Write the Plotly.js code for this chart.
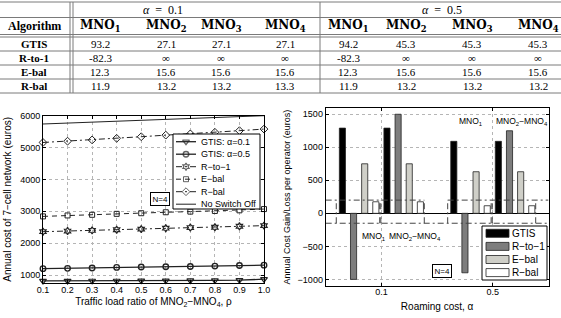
<!DOCTYPE html>
<html><head><meta charset="utf-8">
<script src="https://cdn.plot.ly/plotly-3.0.1.min.js"></script>
<style>html,body{margin:0;padding:0;background:#fff}#chart{width:561px;height:318px}</style>
</head><body><div id="chart"></div>
<script>
// ---------------- TABLE DATA ----------------
const algorithms = ['GTIS', 'R-to-1', 'E-bal', 'R-bal'];
const alphaLabels = ['<i>α</i>\u2002=\u20020.1', '<i>α</i>\u2002=\u20020.5'];
const mnoLabels = ['MNO<sub>1</sub>', 'MNO<sub>2</sub>', 'MNO<sub>3</sub>', 'MNO<sub>4</sub>'];
const tableAlpha01 = [
  ['93.2', '27.1', '27.1', '27.1'],
  ['-82.3', '∞', '∞', '∞'],
  ['12.3', '15.6', '15.6', '15.6'],
  ['11.9', '13.2', '13.2', '13.3']
];
const tableAlpha05 = [
  ['94.2', '45.3', '45.3', '45.3'],
  ['-82.3', '∞', '∞', '∞'],
  ['12.3', '15.6', '15.6', '15.6'],
  ['11.9', '13.2', '13.2', '13.2']
];

// ---------------- LEFT CHART DATA ----------------
const rho = [0.1, 0.2, 0.3, 0.4, 0.5, 0.6, 0.7, 0.8, 0.9, 1.0];
const rhoTickText = ['0.1', '0.2', '0.3', '0.4', '0.5', '0.6', '0.7', '0.8', '0.9', '1.0'];
const costTicks = [1000, 2000, 3000, 4000, 5000, 6000];
const costGtis01 = [815, 815, 820, 820, 825, 825, 830, 835, 840, 870];
const costGtis05 = [1200, 1210, 1220, 1240, 1250, 1260, 1270, 1280, 1300, 1310];
const costRto1 = [2360, 2380, 2400, 2420, 2440, 2470, 2490, 2500, 2530, 2550];
const costEbal = [2840, 2870, 2890, 2920, 2940, 2970, 2990, 3010, 3030, 3070];
const costRbal = [5160, 5200, 5240, 5290, 5340, 5390, 5430, 5480, 5530, 5580];
const costNoSwitchOff = [5740, 5770, 5800, 5830, 5860, 5890, 5920, 5945, 5970, 6000];
const leftLegendLabels = ['GTIS: α=0.1', 'GTIS: α=0.5', 'R−to−1', 'E−bal', 'R−bal', 'No Switch Off'];

// ---------------- RIGHT CHART DATA ----------------
const roamingAlpha = [0.1, 0.5];
const roamingTickText = ['0.1', '0.5'];
const operatorGroups = ['MNO<sub>1</sub>', 'MNO<sub>2</sub>−MNO<sub>4</sub>'];
const gainTicks = [-1000, -500, 0, 500, 1000, 1500];
// order: [α=0.1 MNO1, α=0.1 MNO2–MNO4, α=0.5 MNO1, α=0.5 MNO2–MNO4]
const gainGtis = [1290, 1290, 1090, 1090];
const gainRto1 = [-1000, 1500, -900, 1250];
const gainEbal = [750, 750, 630, 630];
const gainRbal = [175, 175, 115, 115];
const gainRefUpper = 200;
const gainRefLower = -150;
const rightLegendLabels = ['GTIS', 'R−to−1', 'E−bal', 'R−bal'];
const boxLabel = 'N=4';

// ---------------- STYLE / LAYOUT CONSTANTS ----------------
const SANS = 'Liberation Sans, Arial, Helvetica, sans-serif';
const SERIF = 'Liberation Serif, Times New Roman, serif';
const BSERIF = 'DejaVu Serif, serif';
const INK = '#222';

const data = [];
const annotations = [];
function pxAnn(x, y, text, size, family, extra) {
  return Object.assign({xref: 'x3', yref: 'y3', x: x, y: y, text: text, showarrow: false,
    xanchor: 'center', yanchor: 'middle', font: {family: family, size: size, color: '#000'}}, extra || {});
}
function lineTrace(x, y, s, sizes, ax) {
  const t = {type: 'scatter', x: x, y: y, xaxis: ax[0], yaxis: ax[1], cliponaxis: false,
    mode: s.sym ? 'lines+markers' : 'lines',
    line: {color: INK, width: s.lw, dash: s.dash}, hoverinfo: 'skip', showlegend: false};
  if (s.sym) t.marker = {symbol: s.sym, size: sizes, color: INK, line: {color: INK, width: s.mw}};
  return t;
}

// ---- left chart series
const leftSeries = [
  {y: costGtis01, dash: 'solid', sym: 'triangle-down-open', size: 6, mw: 1.2, lw: 1.3},
  {y: costGtis05, dash: 'solid', sym: 'circle-open', size: 5.5, mw: 1.4, lw: 1.3},
  {y: costRto1, dash: '6px,3px,2px,3px', sym: 'hexagram-open', size: 5.5, mw: 1.2, lw: 1},
  {y: costEbal, dash: '5px,4px', sym: 'square-open', size: 5, mw: 1, lw: 1},
  {y: costRbal, dash: '6px,3px,2px,3px', sym: 'diamond-open', size: 6, mw: 1, lw: 1},
  {y: costNoSwitchOff, dash: 'solid', sym: null, size: 0, mw: 0, lw: 1}
];
leftSeries.forEach(s => data.push(lineTrace(rho, s.y, s, s.size, ['x', 'y'])));

// ---- right chart: reference dashed boxes
const barStep = 0.04, barW = 0.022, padL = 0.022, padR = 0.014;
function barX(i, j, a) { return roamingAlpha[i] - 0.14 + (j * 4 + a) * barStep; }
const refX = [], refY = [];
const xr2 = [-0.1, 0.7];
roamingAlpha.forEach((al, i) => {
  operatorGroups.forEach((g, j) => {
    const l = barX(i, j, 0) - padL, r = barX(i, j, 3) + padR;
    refX.push(l, l, null, r, r, null);
    refY.push(gainRefLower, gainRefUpper, null, gainRefLower, gainRefUpper, null);
  });
});
refX.push(xr2[0], barX(0, 1, 3) + padR, null, barX(1, 0, 0) - padL, xr2[1], null, xr2[0], xr2[1]);
refY.push(gainRefUpper, gainRefUpper, null, gainRefUpper, gainRefUpper, null, gainRefLower, gainRefLower);
data.push({type: 'scatter', x: refX, y: refY, xaxis: 'x2', yaxis: 'y2', mode: 'lines',
  line: {color: '#444', width: 1, dash: '6px,3px,2px,3px'}, hoverinfo: 'skip', showlegend: false, connectgaps: false});

// ---- right chart bars
const gainSeries = [gainGtis, gainRto1, gainEbal, gainRbal];
const barColors = ['#000000', '#7d7d7d', '#cfcfc8', '#ffffff'];
gainSeries.forEach((vals, a) => {
  const xs = [], ys = [];
  roamingAlpha.forEach((al, i) => operatorGroups.forEach((g, j) => {
    xs.push(barX(i, j, a)); ys.push(vals[i * 2 + j]);
  }));
  data.push({type: 'bar', x: xs, y: ys, xaxis: 'x2', yaxis: 'y2', width: barW,
    marker: {color: barColors[a], line: {color: '#222', width: 0.8}}, hoverinfo: 'skip', showlegend: false});
});

// ---------------- OVERLAY (pixel space) : table, legends ----------------
const tblColX = [34, 100, 166, 221, 285, 348, 406, 472, 538];
const tblAlphaX = [163, 442];
const tblAlphaY = 10, tblHeadY = 26, tblBody0 = 44, tblStep = 14;
const tblHLines = [2, 17.5, 34.5, 37, 51, 65, 79, 93];
const tblVLines = [70, 73, 320];
const lx = [], ly = [];
tblHLines.forEach(y => { lx.push(0, 561, null); ly.push(y, y, null); });
tblVLines.forEach(x => { lx.push(x, x, null); ly.push(tblHLines[0], tblHLines[tblHLines.length - 1], null); });
data.push({type: 'scatter', x: lx, y: ly, xaxis: 'x3', yaxis: 'y3', mode: 'lines',
  line: {color: '#7a7a7a', width: 1}, hoverinfo: 'skip', showlegend: false});

alphaLabels.forEach((t, i) => annotations.push(pxAnn(tblAlphaX[i], tblAlphaY, t, 12, SERIF)));
annotations.push(pxAnn(tblColX[0], tblHeadY, '<b>Algorithm</b>', 12, SERIF));
[0, 1].forEach(g => mnoLabels.forEach((m, k) =>
  annotations.push(pxAnn(tblColX[1 + g * 4 + k], tblHeadY, '<b>' + m + '</b>', 12, BSERIF))));
algorithms.forEach((alg, r) => {
  const y = tblBody0 + r * tblStep;
  annotations.push(pxAnn(tblColX[0], y, '<b>' + alg + '</b>', 11, SERIF));
  tableAlpha01[r].forEach((v, k) => annotations.push(pxAnn(tblColX[1 + k], y, v, 11, SERIF)));
  tableAlpha05[r].forEach((v, k) => annotations.push(pxAnn(tblColX[5 + k], y, v, 11, SERIF)));
});

// left legend
const lgL = {x0: 173, x1: 260, y0: 134, y1: 209, first: 141.7, step: 12.5, s0: 176, s1: 196, tx: 199};
data.push({type: 'scatter', x: [lgL.x0, lgL.x1, lgL.x1, lgL.x0, lgL.x0], y: [lgL.y0, lgL.y0, lgL.y1, lgL.y1, lgL.y0],
  xaxis: 'x3', yaxis: 'y3', mode: 'lines', fill: 'toself', fillcolor: '#fff', line: {color: '#000', width: 1},
  hoverinfo: 'skip', showlegend: false});
leftSeries.forEach((s, i) => {
  const y = lgL.first + i * lgL.step;
  data.push(lineTrace([lgL.s0, (lgL.s0 + lgL.s1) / 2, lgL.s1], [y, y, y], s, [0, s.size, 0], ['x3', 'y3']));
  annotations.push(pxAnn(lgL.tx, y, leftLegendLabels[i], 9, SANS, {xanchor: 'left'}));
});

// right legend
const lgR = {x0: 482, x1: 547, y0: 226, y1: 280, first: 233.3, step: 13.1, s0: 486, s1: 509, sh: 4, tx: 510};
data.push({type: 'scatter', x: [lgR.x0, lgR.x1, lgR.x1, lgR.x0, lgR.x0], y: [lgR.y0, lgR.y0, lgR.y1, lgR.y1, lgR.y0],
  xaxis: 'x3', yaxis: 'y3', mode: 'lines', fill: 'toself', fillcolor: '#fff', line: {color: '#000', width: 1},
  hoverinfo: 'skip', showlegend: false});
rightLegendLabels.forEach((t, a) => {
  const y = lgR.first + a * lgR.step;
  data.push({type: 'scatter', x: [lgR.s0, lgR.s1, lgR.s1, lgR.s0, lgR.s0],
    y: [y - lgR.sh, y - lgR.sh, y + lgR.sh, y + lgR.sh, y - lgR.sh], xaxis: 'x3', yaxis: 'y3',
    mode: 'lines', fill: 'toself', fillcolor: barColors[a], line: {color: '#222', width: 0.8},
    hoverinfo: 'skip', showlegend: false});
  annotations.push(pxAnn(lgR.tx, y, t, 10, SANS, {xanchor: 'left'}));
});

// N=4 boxes and group labels
const nBoxStyle = {bordercolor: '#000', borderwidth: 1, borderpad: 1.5, bgcolor: '#fff'};
annotations.push(pxAnn(159.5, 199, boxLabel, 8, SANS, nBoxStyle));
annotations.push(pxAnn(442, 270.5, boxLabel, 8, SANS, nBoxStyle));
annotations.push(pxAnn(471, 121, operatorGroups[0], 8.5, SANS));
annotations.push(pxAnn(521.5, 121, operatorGroups[1], 8.5, SANS));
annotations.push(pxAnn(374, 236.5, operatorGroups[0], 8.5, SANS));
annotations.push(pxAnn(415, 236.5, operatorGroups[1], 8.5, SANS));

// ---------------- AXES ----------------
const tickFont = {family: SANS, size: 9, color: '#000'};
const axBase = {ticks: 'inside', ticklen: 3, tickcolor: '#000', showline: true, linecolor: '#000', linewidth: 1,
  mirror: 'ticks', showgrid: true, gridcolor: '#b5b5b5', griddash: 'dot', gridwidth: 1, zeroline: false,
  tickfont: tickFont, fixedrange: true, automargin: false};

const layout = {
  width: 561, height: 318, margin: {l: 0, r: 0, t: 0, b: 0},
  paper_bgcolor: '#fff', plot_bgcolor: 'rgba(0,0,0,0)', showlegend: false, barmode: 'overlay',
  xaxis: Object.assign({}, axBase, {domain: [43 / 561, 264 / 561], range: [0.1, 1.0], anchor: 'y',
    tickvals: rho, ticktext: rhoTickText, ticklabelstandoff: -2,
    title: {text: 'Traffic load ratio of MNO<sub>2</sub>−MNO<sub>4</sub>, ρ', font: {family: SANS, size: 10, color: '#000'}, standoff: 4}}),
  yaxis: Object.assign({}, axBase, {domain: [35 / 318, 202.3 / 318], range: [750, 6000], anchor: 'x',
    tickvals: costTicks, ticktext: costTicks.map(String),
    title: {text: 'Annual cost of 7−cell network (euros)', font: {family: SANS, size: 10, color: '#000'}, standoff: 6}}),
  xaxis2: Object.assign({}, axBase, {domain: [325.7 / 561, 548.5 / 561], range: xr2, anchor: 'y2',
    tickvals: roamingAlpha, ticktext: roamingTickText, ticklabelstandoff: -3,
    title: {text: 'Roaming cost, α', font: {family: SANS, size: 10, color: '#000'}, standoff: 7}}),
  yaxis2: Object.assign({}, axBase, {domain: [32 / 318, 209.7 / 318], range: [-1100, 1590], anchor: 'x2',
    tickvals: gainTicks, ticktext: gainTicks.map(v => v < 0 ? '−' + Math.abs(v) : String(v)),
    zeroline: true, zerolinecolor: '#000', zerolinewidth: 1,
    title: {text: 'Annual Cost Gain/Loss per operator (euros)', font: {family: SANS, size: 9, color: '#000'}, standoff: 5}}),
  xaxis3: {domain: [0, 1], range: [0, 561], visible: false, fixedrange: true, anchor: 'y3'},
  yaxis3: {domain: [0, 1], range: [318, 0], visible: false, fixedrange: true, anchor: 'x3'},
  annotations: annotations
};

Plotly.newPlot('chart', data, layout, {staticPlot: true, displayModeBar: false});
</script>
</body></html>
